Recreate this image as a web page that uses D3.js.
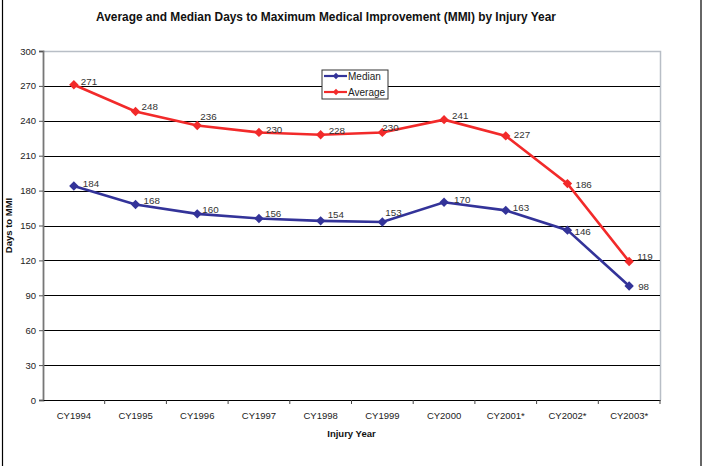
<!DOCTYPE html>
<meta charset="utf-8">
<head>
    <script src="https://d3js.org/d3.v7.min.js"></script>
    <style>
        body { margin: 0; background: #fff; }
        svg { font-family: "Liberation Sans", Arial, sans-serif; }
        .title { font-size: 11.9px; font-weight: bold; fill: #111; }
        .axis-title { font-size: 9.5px; font-weight: bold; fill: #111; }
        .tick text { font-size: 9.5px; fill: #222; }
        .point-label { font-size: 9.8px; fill: #333; }
        .legend text { font-size: 10px; fill: #222; }
    </style>
    <title>Days to MMI</title>
</head>
<body>
<svg id="chart" width="702" height="466"></svg>

<script>
    // data
    var years = ["CY1994", "CY1995", "CY1996", "CY1997", "CY1998", "CY1999", "CY2000", "CY2001*", "CY2002*", "CY2003*"];
    var median = [184, 168, 160, 156, 154, 153, 170, 163, 146, 98];
    var average = [271, 248, 236, 230, 228, 230, 241, 227, 186, 119];
    var yTicks = [0, 30, 60, 90, 120, 150, 180, 210, 240, 270, 300];

    // label nudges [dx, dy] relative to each point (Excel shuffled a few)
    var medianNudge = [[9, -2], [8, -4], [5, -4], [6, -5], [7, -6], [3, -10], [10, -2.5], [7, -3], [7, 1.5], [9, 1]];
    var averageNudge = [[7, -3.5], [6, -5], [3, -9], [7, -3], [8, -4], [0, -5], [8, -4], [8, -1], [8, 1], [8, -5.5]];

    var series = [
        {name: "Median", values: median, nudge: medianNudge, color: "#333399"},
        {name: "Average", values: average, nudge: averageNudge, color: "#f22a2a"}
    ];

    var svg = d3.select("#chart"),
        plotLeft = 43, plotRight = 660, plotTop = 51, plotBottom = 400;

    // outer border
    svg.append("rect")
        .attr("x", 2.5).attr("y", -5)
        .attr("width", 698.5).attr("height", 480)
        .attr("fill", "none").attr("stroke", "#000").attr("stroke-width", 1.2);

    var x = d3.scaleBand().domain(years).range([plotLeft, plotRight]);
    var y = d3.scaleLinear().domain([0, 300]).range([plotBottom, plotTop]);
    var cx = function (i) { return x(years[i]) + x.bandwidth() / 2; };

    // plot frame top/right
    svg.append("path")
        .attr("d", "M" + plotLeft + "," + (plotTop + 0.5) + "H" + (plotRight + 0.5) + "V" + plotBottom)
        .attr("fill", "none").attr("stroke", "#b8bec6").attr("stroke-width", 1.5);

    // gridlines
    svg.append("g").selectAll("line")
        .data(yTicks.filter(function (d) { return d > 0 && d < 300; }))
        .enter().append("line")
        .attr("x1", plotLeft).attr("x2", plotRight)
        .attr("y1", function (d) { return Math.round(y(d)) + 0.5; })
        .attr("y2", function (d) { return Math.round(y(d)) + 0.5; })
        .attr("stroke", "#000").attr("stroke-width", 1);

    // y axis
    var yAxis = svg.append("g")
        .attr("transform", "translate(" + plotLeft + ",0)")
        .call(d3.axisLeft(y).tickValues(yTicks).tickSize(4).tickPadding(3));
    yAxis.select(".domain").attr("stroke", "#777").attr("stroke-width", 1.8);
    yAxis.selectAll(".tick line").attr("stroke", "#555");

    // x axis
    var xAxis = svg.append("g")
        .attr("transform", "translate(0," + plotBottom + ")")
        .call(d3.axisBottom(x).tickSize(0).tickPadding(12));
    xAxis.select(".domain").attr("stroke", "#000").attr("stroke-width", 1);
    xAxis.append("g").selectAll("line")
        .data(years)
        .enter().append("line")
        .attr("x1", function (d) { return x(d) + x.bandwidth(); })
        .attr("x2", function (d) { return x(d) + x.bandwidth(); })
        .attr("y1", 0).attr("y2", 4)
        .attr("stroke", "#444");

    // lines and markers
    var line = d3.line()
        .x(function (d, i) { return cx(i); })
        .y(function (d) { return y(d); });

    var diamond = d3.symbol().type(d3.symbolSquare).size(44);

    series.forEach(function (s) {
        svg.append("path")
            .datum(s.values)
            .attr("d", line)
            .attr("fill", "none")
            .attr("stroke", s.color)
            .attr("stroke-width", 2.6);

        svg.append("g").selectAll("path")
            .data(s.values)
            .enter().append("path")
            .attr("d", diamond)
            .attr("transform", function (d, i) {
                return "translate(" + cx(i) + "," + y(d) + ") rotate(45)";
            })
            .attr("fill", s.color);

        svg.append("g").selectAll("text")
            .data(s.values)
            .enter().append("text")
            .attr("class", "point-label")
            .attr("x", function (d, i) { return cx(i) + s.nudge[i][0]; })
            .attr("y", function (d, i) { return y(d) + s.nudge[i][1] + 3.5; })
            .text(function (d) { return d; });
    });

    // legend
    var legend = svg.append("g").attr("class", "legend").attr("transform", "translate(322,70)");
    legend.append("rect")
        .attr("x", 0).attr("y", 0).attr("width", 66).attr("height", 29)
        .attr("fill", "#fff").attr("stroke", "#333").attr("stroke-width", 1);
    series.forEach(function (s, i) {
        var ly = 6 + i * 16;
        legend.append("line")
            .attr("x1", 2).attr("x2", 25).attr("y1", ly).attr("y2", ly)
            .attr("stroke", s.color).attr("stroke-width", 2.2);
        legend.append("path")
            .attr("d", d3.symbol().type(d3.symbolSquare).size(20))
            .attr("transform", "translate(14," + ly + ") rotate(45)")
            .attr("fill", s.color);
        legend.append("text")
            .attr("x", 26).attr("y", ly + 4)
            .text(s.name);
    });

    // titles
    svg.append("text")
        .attr("class", "title")
        .attr("x", 326).attr("y", 21)
        .attr("text-anchor", "middle")
        .text("Average and Median Days to Maximum Medical Improvement (MMI) by Injury Year");

    svg.append("text")
        .attr("class", "axis-title")
        .attr("x", (plotLeft + plotRight) / 2).attr("y", 437)
        .attr("text-anchor", "middle")
        .text("Injury Year");

    svg.append("text")
        .attr("class", "axis-title")
        .attr("transform", "translate(12," + ((plotTop + plotBottom) / 2) + ") rotate(-90)")
        .attr("text-anchor", "middle")
        .text("Days to MMI");
</script>
</body>
